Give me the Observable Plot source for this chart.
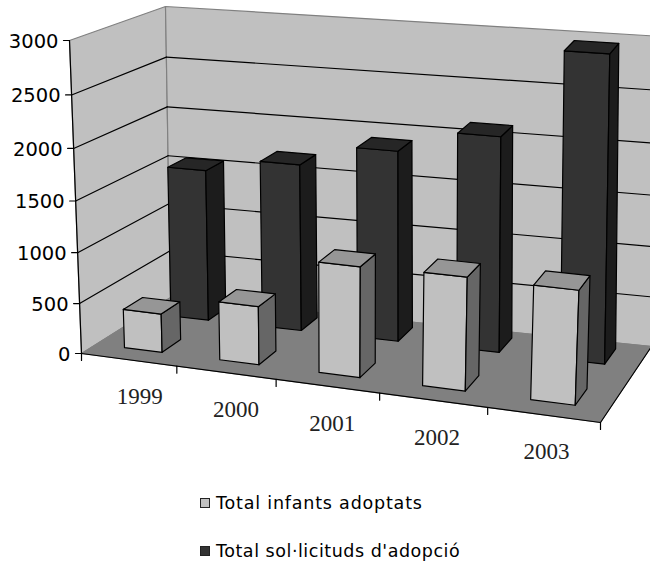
<!DOCTYPE html>
<html>
<head>
<meta charset="utf-8">
<script src="https://cdn.jsdelivr.net/npm/d3@7"></script>
<script src="https://cdn.jsdelivr.net/npm/@observablehq/plot@0.6"></script>
<style>
html,body{margin:0;padding:0;background:#fff;width:650px;height:562px;overflow:hidden}
#chart svg{display:block}
.leg{position:absolute;left:200px;display:flex;align-items:center;font:17.5px "DejaVu Sans",sans-serif;color:#000;white-space:nowrap}
.leg i{display:inline-block;width:8px;height:8px;border:1px solid #222;margin-right:6px}
</style>
</head>
<body>
<div id="chart"></div>
<div id="legend"></div>
<script>
const years = ["1999","2000","2001","2002","2003"];
const adopted = [385, 575, 1075, 1090, 1085];
const requests = [1535, 1675, 1890, 2110, 2950];
const valueTicks = [0, 500, 1000, 1500, 2000, 2500, 3000];
const seriesNames = ["Total infants adoptats", "Total sol·licituds d'adopció"];

const maxValue = 3000;
const corners = {
  f0b:[81,353], f1b:[600,422], b0b:[170,297], b1b:[651,346],
  f0t:[69,40],  f1t:[614,88],  b0t:[165,6],   b1t:[654,35.5]
};
const skew = 0.90, rise = 0.95;
function proj(u, d, v) {
  const w = u * skew / (1 + (skew - 1) * u);
  const r = v / maxValue, h = r * rise / (1 + (rise - 1) * r);
  const mix = k => {
    const bot = (1-d)*((1-w)*corners.f0b[k] + w*corners.f1b[k]) + d*((1-w)*corners.b0b[k] + w*corners.b1b[k]);
    const top = (1-d)*((1-w)*corners.f0t[k] + w*corners.f1t[k]) + d*((1-w)*corners.b0t[k] + w*corners.b1t[k]);
    return (1-h)*bot + h*top;
  };
  return [mix(0), mix(1)];
}
function face(id, fill, pts) {
  return [...pts, pts[0]].map(p => { const [x,y] = proj(...p); return {id, fill, x, y}; });
}
function seg(id, a, b) { return face(id, "none", [a,b]).slice(0,2); }

const walls = [
  ...face("left", "#c0c0c0", [[0,0,0],[0,1,0],[0,1,maxValue],[0,0,maxValue]]),
  ...face("back", "#c0c0c0", [[0,1,0],[1,1,0],[1,1,maxValue],[0,1,maxValue]])
];
const floor = face("floor", "#808080", [[0,0,0],[1,0,0],[1,1,0],[0,1,0]]);
const grid = valueTicks.filter(v => v > 0 && v < maxValue).flatMap(v => [
  ...seg("l"+v, [0,0,v],[0,1,v]), ...seg("b"+v, [0,1,v],[1,1,v])
]);
const edges = [
  ...seg("axis", [0,0,0],[0,0,maxValue]),
  ...seg("front", [0,0,0],[1,0,0]),
  ...seg("right", [1,0,0],[1,1,0])
];
const valueTickLines = valueTicks.flatMap(v => {
  const [x,y] = proj(0,0,v);
  return [{id:v,x:x-6,y},{id:v,x,y}];
});
const catTickLines = d3.range(years.length + 1).flatMap(i => {
  const [x,y] = proj(i/years.length,0,0);
  return [{id:i,x,y},{id:i,x,y:y+7}];
});

const rows = [
  {values: requests, span:[.285,.7], d0:.72, d1:.925, front:"#333333", top:"#262626", side:"#1c1c1c"},
  {values: adopted,  span:[.3,.7],   d0:.17, d1:.39,  front:"#c0c0c0", top:"#969696", side:"#666666"}
];
const bars = rows.flatMap((r, ri) => r.values.flatMap((v, i) => {
  const n = years.length, u0 = (i+r.span[0])/n, u1 = (i+r.span[1])/n;
  const k = ri+"-"+i+"-";
  return [
    ...face(k+"f", r.front, [[u0,r.d0,0],[u1,r.d0,0],[u1,r.d0,v],[u0,r.d0,v]]),
    ...face(k+"s", r.side,  [[u1,r.d0,0],[u1,r.d1,0],[u1,r.d1,v],[u1,r.d0,v]]),
    ...face(k+"t", r.top,   [[u0,r.d0,v],[u1,r.d0,v],[u1,r.d1,v],[u0,r.d1,v]])
  ];
}));

const valueLabels = valueTicks.map(v => { const [x,y] = proj(0,0,v); return {t:String(v), x:x-11, y:y+1}; });
const labelShift = [11, 10, 5, 4, 3];
const catLabels = years.map((t,i) => { const [x,y] = proj((i+.5)/years.length,0,0); return {t, x:x+labelShift[i], y:y+37}; });

const W = 650, H = 470;
const chart = Plot.plot({
  width: W, height: H, margin: 0,
  x: {domain:[0,W], range:[0,W], axis:null},
  y: {domain:[0,H], range:[0,H], axis:null},
  color: {type:"identity"},
  style: {background:"#fff"},
  marks: [
    Plot.line(walls, {x:"x", y:"y", z:"id", fill:"fill", stroke:"#808080", strokeWidth:1.2}),
    Plot.line(grid, {x:"x", y:"y", z:"id", stroke:"#000", strokeWidth:1.2}),
    Plot.line(floor, {x:"x", y:"y", z:"id", fill:"fill", stroke:"#808080", strokeWidth:1}),
    Plot.line(edges, {x:"x", y:"y", z:"id", stroke:"#000", strokeWidth:1.2}),
    Plot.line(valueTickLines, {x:"x", y:"y", z:"id", stroke:"#000", strokeWidth:1.2}),
    Plot.line(catTickLines, {x:"x", y:"y", z:"id", stroke:"#000", strokeWidth:1.2}),
    Plot.line(bars, {x:"x", y:"y", z:"id", fill:"fill", stroke:"#000", strokeWidth:1.2}),
    Plot.text(valueLabels, {x:"x", y:"y", text:"t", textAnchor:"end", fontFamily:"DejaVu Sans", fontSize:19.5, fill:"#000"}),
    Plot.text(catLabels, {x:"x", y:"y", text:"t", fontFamily:"Liberation Serif", fontSize:23, fill:"#222"})
  ]
});
document.getElementById("chart").append(chart);

const legendColors = ["#c0c0c0", "#333333"], legendTops = [493, 541], legendSpacing = [0.8, 0.53];
const legend = document.getElementById("legend");
seriesNames.forEach((name,i) => {
  const row = document.createElement("div");
  row.className = "leg"; row.style.top = legendTops[i]+"px"; row.style.letterSpacing = legendSpacing[i]+"px";
  const sw = document.createElement("i"); sw.style.background = legendColors[i];
  row.append(sw, name);
  legend.append(row);
});
</script>
</body>
</html>
